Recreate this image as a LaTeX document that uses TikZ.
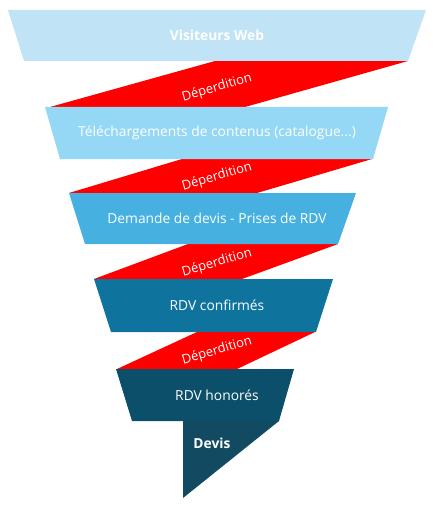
\documentclass[tikz,border=0pt]{standalone}
\usepackage{fontspec}
\setmainfont{Open Sans}
\usepackage{tikz}
\definecolor{etage1}{HTML}{C0E4F5}
\definecolor{etage2}{HTML}{94D8F6}
\definecolor{etage3}{HTML}{46B1E1}
\definecolor{etage4}{HTML}{0E749E}
\definecolor{etage5}{HTML}{0B4F6B}
\definecolor{devisc}{HTML}{124A62}
\definecolor{perte}{HTML}{FF0000}

\begin{document}
\begin{tikzpicture}[x=1pt,y=-1pt,line join=miter,
  lbl/.style={text=white,font=\fontsize{13.8}{15}\selectfont,inner sep=0pt},
  loss/.style={text=white,font=\fontsize{13}{15}\selectfont,rotate=16,inner sep=0pt}]
  \useasboundingbox (0,0) rectangle (434,508);
  % red leaks between the stages
  \fill[perte] (215,61)--(408,61)--(245,107)--(50,107)--cycle;
  \fill[perte] (182,159)--(372,159)--(257,193)--(69,193)--cycle;
  \fill[perte] (188,244)--(338,244)--(242,279)--(94,279)--cycle;
  \fill[perte] (197,332)--(315,332)--(237,369)--(117,369)--cycle;
  % funnel stages
  \fill[etage1] (8,10)--(426,10)--(408,61)--(24,61)--cycle;
  \fill[etage2] (45,107)--(388,107)--(373,159)--(60,159)--cycle;
  \fill[etage3] (69,193)--(356,193)--(338,244)--(85,244)--cycle;
  \fill[etage4] (94,279)--(333,279)--(316,332)--(111,332)--cycle;
  \fill[etage5] (116,369)--(294,369)--(279,421)--(132,421)--cycle;
  \fill[devisc] (183,421)--(279,421)--(183,498)--cycle;
  % labels
  \node[lbl,font=\fontsize{13.8}{15}\selectfont\bfseries] (web) at (217,35) {Visiteurs Web};
  \node[lbl] (dl) at (217,133) {Téléchargements de contenus (catalogue...)};
  \node[lbl] (rq) at (217,218) {Demande de devis - Prises de RDV};
  \node[lbl] (conf) at (217,305) {RDV confirmés};
  \node[lbl] (hon) at (217,395) {RDV honorés};
  \node[lbl,font=\fontsize{13.8}{15}\selectfont\bfseries] (devis) at (212,443) {Devis};
  \node[loss] (p1) at (217,88) {Déperdition};
  \node[loss] (p2) at (217,177) {Déperdition};
  \node[loss] (p3) at (217,263) {Déperdition};
  \node[loss] (p4) at (217,351) {Déperdition};
\end{tikzpicture}
\end{document}
